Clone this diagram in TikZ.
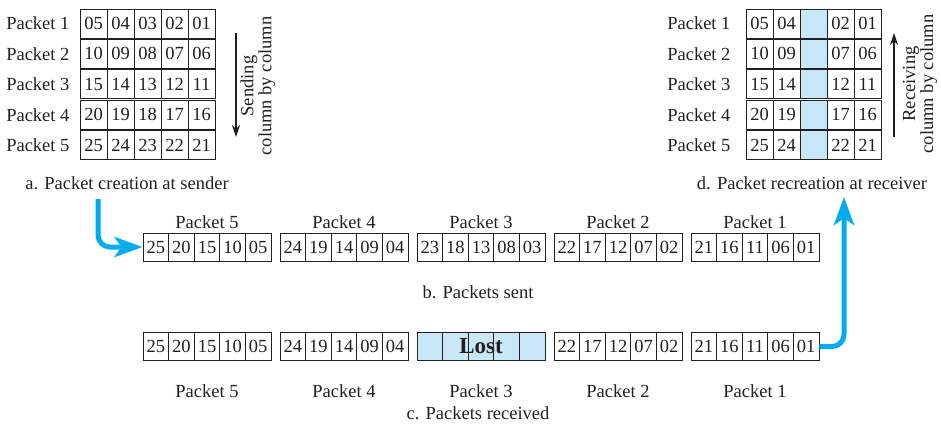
\documentclass[tikz,border=0pt]{standalone}
\usepackage{fontspec}
\setmainfont{Liberation Serif}
\usetikzlibrary{arrows.meta}
\definecolor{flowblue}{RGB}{0,172,236}
\definecolor{lostblue}{RGB}{200,232,247}
\definecolor{ink}{RGB}{35,31,32}

\begin{document}
\begin{tikzpicture}[x=1pt,y=-1pt,
    every node/.append style={font=\fontsize{18.5}{18}\selectfont, text=ink},
    cell/.style={draw=ink, line width=0.9pt, minimum width=27pt, minimum height=29pt, inner sep=0pt},
    pcell/.style={draw=ink, line width=0.9pt, minimum width=25.6pt, minimum height=28pt, inner sep=0pt},
    flow/.style={flowblue, line width=5pt, rounded corners=12pt, -{Stealth[length=28pt,width=20pt,inset=7pt]}},
    order/.style={ink, line width=1.4pt, -{Stealth[length=12pt,width=8pt]}}]
  \useasboundingbox (0,0) rectangle (941,424);

  % a. table at the sender
  \foreach \r in {1,...,5} {
    \node[anchor=east] (sl\r) at (73,{23.5+30.4*(\r-1)}) {Packet \r};
    \foreach \c [evaluate=\c as \v using {int(5*(\r-1)+6-\c)}] in {1,...,5}
      \node[cell] (s\r-\c) at ({93.5+27*(\c-1)},{23.5+30.4*(\r-1)}) {\ifnum\v<10 0\fi\v};
  }
  \coordinate (sendTop) at (236,33);
  \coordinate (sendBot) at (236,137);
  \draw[order] (sendTop) -- (sendBot);
  \node[rotate=90, align=center] (sendTxt) at (258,86) {Sending\\column by column};
  \node (capA) at (127,183) {a. Packet creation at sender};

  % b. packets sent
  \foreach \p [count=\k] in {5,4,3,2,1} {
    \node (bl\p) at ({207+137*(\k-1)},222) {Packet \p};
    \foreach \c [evaluate=\c as \v using {int(5*(6-\c)-5+\p)}] in {1,...,5}
      \node[pcell] (b\p-\c) at ({155.8+137*(\k-1)+25.6*(\c-1)},247) {\ifnum\v<10 0\fi\v};
  }
  \node (capB) at (478,292) {b. Packets sent};

  % c. packets received
  \foreach \p/\k in {5/1,4/2,2/4,1/5} {
    \foreach \c [evaluate=\c as \v using {int(5*(6-\c)-5+\p)}] in {1,...,5}
      \node[pcell] (c\p-\c) at ({155.8+137*(\k-1)+25.6*(\c-1)},346.5) {\ifnum\v<10 0\fi\v};
  }
  \foreach \c in {1,...,5}
    \node[pcell, fill=lostblue] (c3-\c) at ({155.8+274+25.6*(\c-1)},346.5) {};
  \node[font=\fontsize{23}{24}\selectfont\bfseries] (lost) at (c3-3) {Lost};
  \foreach \p [count=\k] in {5,4,3,2,1}
    \node (cl\p) at ({207+137*(\k-1)},391) {Packet \p};
  \node (capC) at (478,413) {c. Packets received};

  % d. table at the receiver
  \foreach \r in {1,...,5} {
    \node[anchor=east] (rl\r) at (734,{23.5+30.4*(\r-1)}) {Packet \r};
    \foreach \c [evaluate=\c as \v using {int(5*(\r-1)+6-\c)}] in {1,2,4,5}
      \node[cell] (r\r-\c) at ({759.5+27*(\c-1)},{23.5+30.4*(\r-1)}) {\ifnum\v<10 0\fi\v};
    \node[cell, fill=lostblue] (r\r-3) at (813.5,{23.5+30.4*(\r-1)}) {};
  }
  \coordinate (recvBot) at (894,137);
  \coordinate (recvTop) at (894,33);
  \draw[order] (recvBot) -- (recvTop);
  \node[rotate=90, align=center] (recvTxt) at (920,84) {Receiving\\column by column};
  \node (capD) at (812,183) {d. Packet recreation at receiver};

  % blue flow arrows
  \coordinate (aStart) at (98,199);
  \draw[flow] (aStart) |- (b5-1.west);
  \coordinate (dEnd) at (844,197);
  \draw[flow] (c1-5.east) -| (dEnd);
\end{tikzpicture}
\end{document}
